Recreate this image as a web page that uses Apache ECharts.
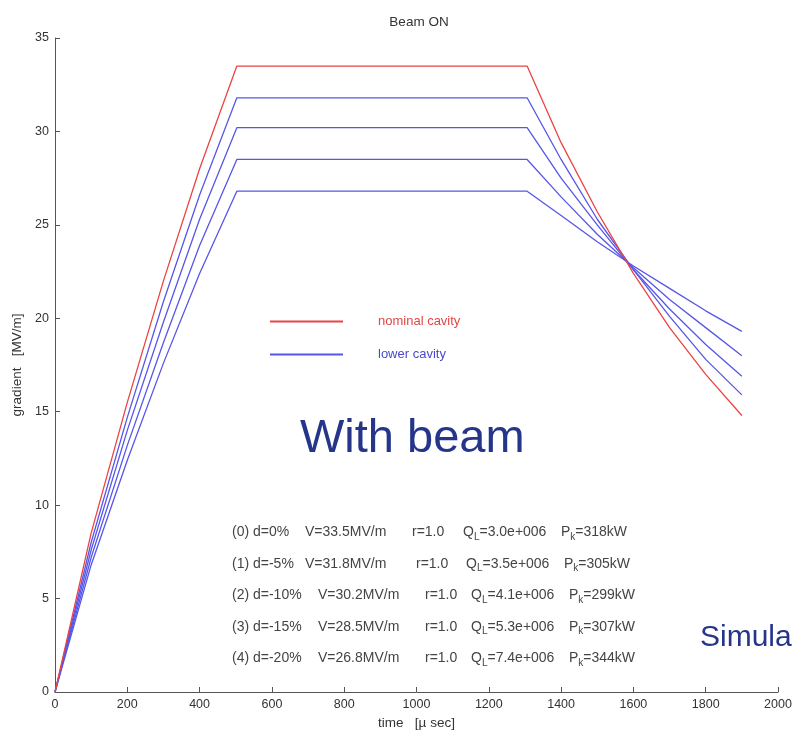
<!DOCTYPE html>
<html>
<head>
<meta charset="utf-8">
<script src="https://cdn.jsdelivr.net/npm/echarts@6/dist/echarts.min.js"></script>
<style>
  html, body { margin: 0; padding: 0; background: #fff; }
  #chart { width: 798px; height: 739px; }
</style>
</head>
<body>
<div id="chart"></div>
<script>
// time axis [µs] and gradient [MV/m]
const timeUs = [0, 100, 200, 300, 400, 503, 1306, 1400, 1500, 1600, 1700, 1800, 1900];
const gradient0 = [0, 8.5, 15.5, 22.0, 28.0, 33.5, 33.5, 29.4, 25.7, 22.4, 19.5, 17.0, 14.8];
const gradient1 = [0, 8.0, 14.7, 20.9, 26.6, 31.8, 31.8, 28.5, 25.3, 22.6, 20.1, 17.8, 15.9];
const gradient2 = [0, 7.6, 14.0, 19.8, 25.3, 30.2, 30.2, 27.5, 25.0, 22.6, 20.5, 18.6, 16.9];
const gradient3 = [0, 7.2, 13.2, 18.7, 23.9, 28.5, 28.5, 26.5, 24.5, 22.7, 21.0, 19.5, 18.0];
const gradient4 = [0, 6.8, 12.4, 17.6, 22.4, 26.8, 26.8, 25.5, 24.1, 22.8, 21.6, 20.4, 19.3];

const caseLabels = ['(0)', '(1)', '(2)', '(3)', '(4)'];
const detuning = ['d=0%', 'd=-5%', 'd=-10%', 'd=-15%', 'd=-20%'];
const flatTop = ['33.5', '31.8', '30.2', '28.5', '26.8'];
const rValues = ['1.0', '1.0', '1.0', '1.0', '1.0'];
const qLoaded = ['3.0e+006', '3.5e+006', '4.1e+006', '5.3e+006', '7.4e+006'];
const pKlystron = ['318kW', '305kW', '299kW', '307kW', '344kW'];

const RED = '#ec4343';
const BLUE = '#5656e8';
const FONT = '"Liberation Sans", Arial, sans-serif';

const curves = [gradient0, gradient1, gradient2, gradient3, gradient4];
const cornerIdx = 5;

const series = curves.map((g, k) => ({
  type: 'line',
  name: k === 0 ? 'nominal cavity' : 'lower cavity',
  symbol: 'none',
  z: k === 0 ? 3 : 2,
  lineStyle: { color: k === 0 ? RED : BLUE, width: 1.3 },
  itemStyle: { color: k === 0 ? RED : BLUE },
  data: timeUs.map((t, i) => {
    if (i !== cornerIdx) return [t, g[i]];
    return {
      value: [t, g[i]],
      label: {
        show: true,
        formatter: caseLabels[k],
        position: 'top',
        distance: 3,
        offset: [8, 0],
        color: '#333',
        fontSize: 12,
        fontFamily: FONT,
      },
    };
  }),
}));

// annotation block below the curves; every cell ends with a subscript token
// so all cells share the same line box
const rich = {
  n: { fontSize: 14, fontFamily: FONT, color: '#444', lineHeight: 18 },
  s: { fontSize: 10, fontFamily: FONT, color: '#444', lineHeight: 18, padding: [9, 0, 0, 0] },
};
const colX = [
  [232, 253, 305, 412, 463, 561],
  [232, 253, 305, 416, 466, 564],
  [232, 253, 318, 425, 471, 569],
  [232, 253, 318, 425, 471, 569],
  [232, 253, 318, 425, 471, 569],
];
const notes = [];
caseLabels.forEach((lab, i) => {
  const y = 532 + i * 31.5;
  const cells = [
    '{n|' + lab + '}{s| }',
    '{n|' + detuning[i] + '}{s| }',
    '{n|V=' + flatTop[i] + 'MV/m}{s| }',
    '{n|r=' + rValues[i] + '}{s| }',
    '{n|Q}{s|L}{n|=' + qLoaded[i] + '}',
    '{n|P}{s|k}{n|=' + pKlystron[i] + '}',
  ];
  cells.forEach((c, j) => {
    notes.push({
      type: 'text',
      left: colX[i][j],
      top: y - 9,
      style: { text: c, rich: rich, fill: '#444' },
    });
  });
});

const chart = echarts.init(document.getElementById('chart'));
chart.setOption({
  backgroundColor: '#fff',
  animation: false,
  title: {
    text: 'Beam ON',
    left: 414,
    top: 10,
    textAlign: 'center',
    textStyle: { fontSize: 13.5, fontWeight: 'normal', color: '#333', fontFamily: FONT },
  },
  grid: { left: 55, right: 20, top: 38, bottom: 47, containLabel: false },
  legend: {
    left: 265,
    top: 310,
    orient: 'vertical',
    itemWidth: 73,
    itemHeight: 2,
    itemGap: 20,
    icon: 'rect',
    textStyle: { fontSize: 13, fontFamily: FONT, padding: [0, 0, 0, 30] },
    data: [
      { name: 'nominal cavity', textStyle: { color: '#e04848' } },
      { name: 'lower cavity', textStyle: { color: '#4a4ac8' } },
    ],
  },
  xAxis: {
    type: 'value',
    min: 0,
    max: 2000,
    interval: 200,
    name: 'time   [\u00b5 sec]',
    nameLocation: 'middle',
    nameGap: 24,
    nameTextStyle: { fontSize: 13.5, color: '#333', fontFamily: FONT },
    axisLine: { lineStyle: { color: '#555', width: 1 } },
    axisTick: { inside: true, length: 5, lineStyle: { color: '#555' } },
    axisLabel: { fontSize: 12.5, color: '#333', fontFamily: FONT, margin: 6, formatter: v => String(v) },
    splitLine: { show: false },
  },
  yAxis: {
    type: 'value',
    min: 0,
    max: 35,
    interval: 5,
    name: 'gradient   [MV/m]',
    nameLocation: 'middle',
    nameGap: 26,
    nameTextStyle: { fontSize: 13.5, color: '#333', fontFamily: FONT },
    axisLine: { show: true, lineStyle: { color: '#555', width: 1 } },
    axisTick: { show: true, inside: true, length: 5, lineStyle: { color: '#555' } },
    axisLabel: { fontSize: 12.5, color: '#333', fontFamily: FONT, margin: 6 },
    splitLine: { show: false },
  },
  graphic: [
    {
      type: 'text',
      left: 300,
      top: 416,
      style: { text: 'With beam', fontSize: 47, fontFamily: FONT, fill: '#24358a' },
    },
    {
      type: 'text',
      left: 700,
      top: 623,
      style: { text: 'Simula', fontSize: 30, fontFamily: FONT, fill: '#24358a' },
    },
  ].concat(notes),
  series: series,
});
</script>
</body>
</html>
